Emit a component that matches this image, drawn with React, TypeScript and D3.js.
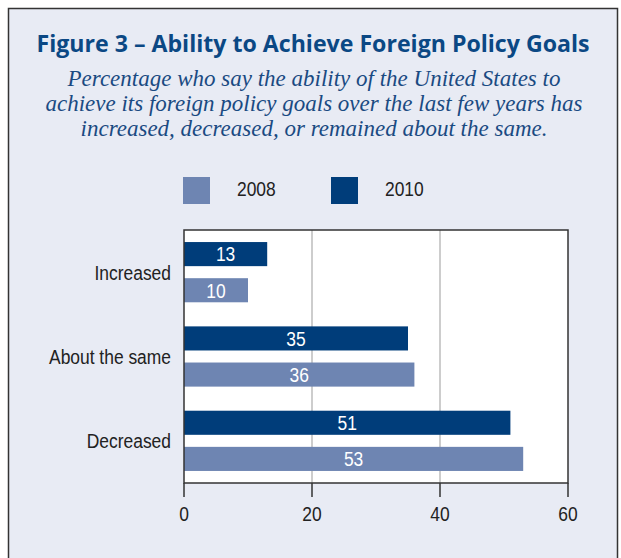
import React from "react";
import * as d3 from "d3";

const categories = ["Increased", "About the same", "Decreased"];
const seriesNames = ["2010", "2008"];
const values2010 = [13, 35, 51];
const values2008 = [10, 36, 53];
const xTicks = [0, 20, 40, 60];
const legendOrder = ["2008", "2010"];
const titleText = "Figure 3 – Ability to Achieve Foreign Policy Goals";
const subtitleLines = [
  "Percentage who say the ability of the United States to",
  "achieve its foreign policy goals over the last few years has",
  "increased, decreased, or remained about the same.",
];

const W = 621;
const H = 558;
const colors: Record<string, string> = { "2010": "#003d7a", "2008": "#6e85b2" };
const sans = "'Liberation Sans', Arial, sans-serif";

function NText(props: {
  x: number;
  y: number;
  anchor?: "start" | "middle" | "end";
  fill: string;
  size?: number;
  sx?: number;
  dy?: string;
  children: React.ReactNode;
}) {
  const { x, y, anchor = "start", fill, size = 21, sx = 0.83, dy, children } = props;
  return (
    <g transform={`translate(${x},${y}) scale(${sx},1)`}>
      <text x={0} y={0} dy={dy} textAnchor={anchor} fill={fill} style={{ fontFamily: sans, fontSize: size }}>
        {children}
      </text>
    </g>
  );
}

export default function App() {
  const plotLeft = 184;
  const plotRight = 568;
  const plotTop = 230;
  const plotBottom = 483;

  const x = d3.scaleLinear().domain([0, 60]).range([plotLeft, plotRight]);
  const y = d3.scaleBand<string>().domain(categories).range([plotTop, plotBottom]).paddingInner(0).paddingOuter(0);
  const ySub = d3
    .scaleBand<string>()
    .domain(seriesNames)
    .range([0, y.bandwidth()])
    .paddingInner(1 / 3)
    .paddingOuter(1 / 3);

  const dataBySeries: Record<string, number[]> = { "2010": values2010, "2008": values2008 };

  const legendX: Record<string, number> = { "2008": 183, "2010": 331 };

  return (
    <div style={{ position: "fixed", left: 0, top: 0, width: W, height: H, background: "#fff" }}>
      <svg width={W} height={H} style={{ display: "block" }}>
        <rect x={0} y={0} width={W} height={H} fill="#ffffff" />
        <rect x={8.5} y={8.5} width={609} height={570} fill="#e8ebf4" stroke="#333" strokeWidth={1.5} />
        <text
          x={313}
          y={52}
          textAnchor="middle"
          fill="#0b4884"
          style={{ fontFamily: "'Open Sans', 'Noto Sans', sans-serif", fontWeight: 700, fontSize: 24 }}
          textLength={553}
          lengthAdjust="spacingAndGlyphs"
        >
          {titleText}
        </text>
        {subtitleLines.map((t, i) => (
          <text
            key={i}
            x={314}
            y={86 + i * 25}
            textAnchor="middle"
            fill="#1a4a82"
            style={{ fontFamily: "'Liberation Serif', 'DejaVu Serif', serif", fontStyle: "italic", fontSize: 23 }}
          >
            {t}
          </text>
        ))}

        {legendOrder.map((s) => (
          <g key={s}>
            <rect x={legendX[s]} y={177} width={27} height={27} fill={colors[s]} />
            <NText x={legendX[s] + 54} y={196} fill="#222">
              {s}
            </NText>
          </g>
        ))}

        <rect x={plotLeft} y={plotTop} width={plotRight - plotLeft} height={plotBottom - plotTop} fill="#fff" />
        {xTicks.slice(1, -1).map((t) => (
          <line key={t} x1={x(t)} x2={x(t)} y1={plotTop} y2={plotBottom} stroke="#bdbdbd" strokeWidth={1.5} />
        ))}

        {categories.map((c, ci) =>
          seriesNames.map((s) => {
            const v = dataBySeries[s][ci];
            const by = (y(c) as number) + (ySub(s) as number);
            const bh = ySub.bandwidth();
            return (
              <g key={c + s}>
                <rect x={x(0)} y={by} width={x(v) - x(0)} height={bh} fill={colors[s]} />
                <NText x={(x(0) + x(v)) / 2} y={by + bh / 2} dy="0.35em" anchor="middle" fill="#fff">
                  {v}
                </NText>
              </g>
            );
          })
        )}

        <rect
          x={plotLeft}
          y={plotTop}
          width={plotRight - plotLeft}
          height={plotBottom - plotTop}
          fill="none"
          stroke="#333"
          strokeWidth={1.5}
        />

        {xTicks.map((t) => (
          <g key={t}>
            <line x1={x(t)} x2={x(t)} y1={plotBottom} y2={497} stroke="#333" strokeWidth={1.5} />
            <NText x={x(t)} y={521} anchor="middle" fill="#222">
              {t}
            </NText>
          </g>
        ))}

        {categories.map((c) => (
          <NText key={c} x={171} y={(y(c) as number) + y.bandwidth() / 2} dy="0.35em" anchor="end" fill="#222">
            {c}
          </NText>
        ))}
      </svg>
    </div>
  );
}
